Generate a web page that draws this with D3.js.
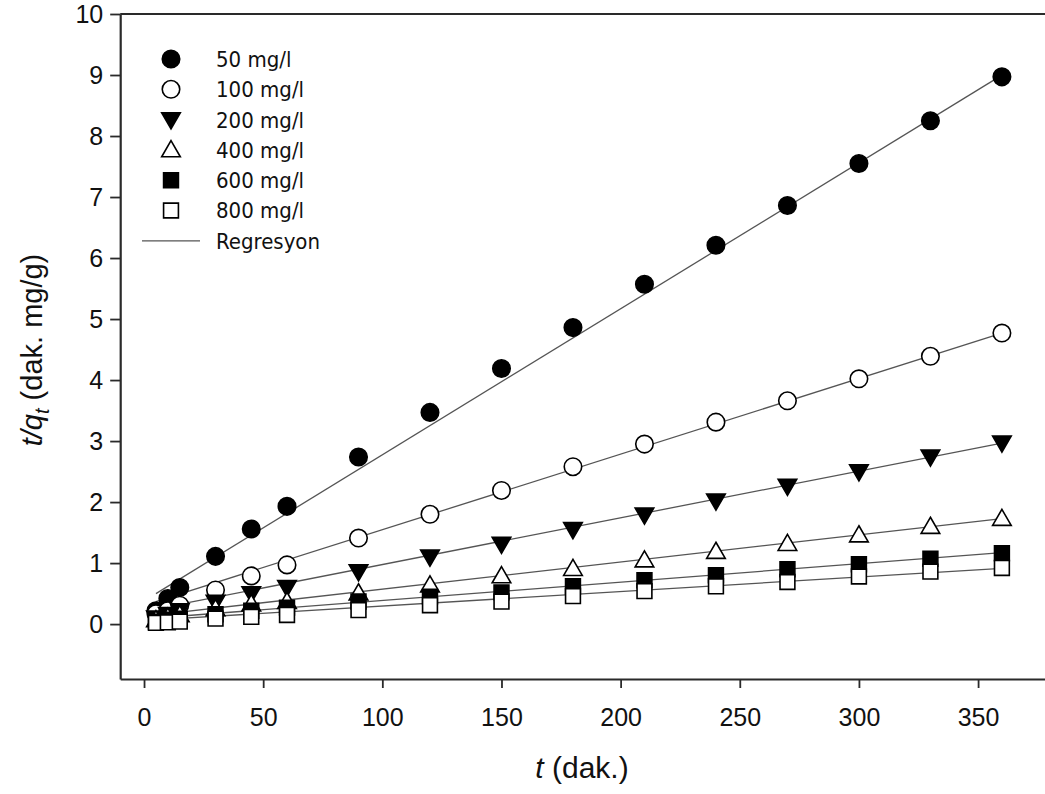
<!DOCTYPE html>
<html>
<head>
<meta charset="utf-8">
<script src="https://cdn.jsdelivr.net/npm/d3@7"></script>
<style>
  body { margin: 0; background: #fff; }
  svg { display: block; }
</style>
</head>
<body>
<div id="chart"></div>
<script>
// time points (dak.)
const times = [5, 10, 15, 30, 45, 60, 90, 120, 150, 180, 210, 240, 270, 300, 330, 360];

const seriesNames = ["50 mg/l", "100 mg/l", "200 mg/l", "400 mg/l", "600 mg/l", "800 mg/l"];
const seriesShapes = ["circle", "circle", "triangleDown", "triangleUp", "square", "square"];
const seriesFilled = [true, false, true, false, true, false];

// t/qt values
const c50  = [0.22, 0.42, 0.60, 1.11, 1.56, 1.93, 2.74, 3.47, 4.19, 4.86, 5.57, 6.21, 6.86, 7.55, 8.25, 8.97];
const c100 = [0.17, 0.22, 0.31, 0.56, 0.79, 0.97, 1.41, 1.80, 2.19, 2.58, 2.95, 3.31, 3.66, 4.02, 4.39, 4.77];
const c200 = [0.10, 0.16, 0.22, 0.36, 0.50, 0.60, 0.86, 1.10, 1.31, 1.55, 1.79, 2.02, 2.26, 2.50, 2.74, 2.97];
const c400 = [0.07, 0.11, 0.15, 0.25, 0.33, 0.37, 0.51, 0.64, 0.79, 0.91, 1.05, 1.19, 1.32, 1.46, 1.60, 1.73];
const c600 = [0.04, 0.07, 0.09, 0.16, 0.22, 0.27, 0.37, 0.45, 0.52, 0.62, 0.72, 0.80, 0.90, 0.98, 1.07, 1.16];
const c800 = [0.02, 0.03, 0.04, 0.09, 0.12, 0.15, 0.23, 0.31, 0.37, 0.46, 0.54, 0.62, 0.69, 0.78, 0.86, 0.92];
const seriesValues = [c50, c100, c200, c400, c600, c800];

// regression lines t/qt = a + b*t
const regIntercept = [0.38, 0.308, 0.21, 0.128, 0.085, 0.058];
const regSlope = [0.02394, 0.01239, 0.00766, 0.00445, 0.003014, 0.00238];
const regRange = [5, 360];

const xTicks = [0, 50, 100, 150, 200, 250, 300, 350];
const yTicks = [0, 1, 2, 3, 4, 5, 6, 7, 8, 9, 10];

const width = 1045;
const height = 794;

const svg = d3.select("#chart")
    .append("svg")
    .attr("width", width)
    .attr("height", height);

const x = d3.scaleLinear()
    .domain([-10, 380])
    .range([120.2, 120.2 + 390 * 2.383]);

const y = d3.scaleLinear()
    .domain([-0.9, 10])
    .range([679, 14]);

const axisColor = "#2a2a2a";
const tickFont = "Liberation Sans, Arial, sans-serif";

// frame: top line
svg.append("line")
    .attr("x1", x(-10)).attr("x2", x(380))
    .attr("y1", y(10)).attr("y2", y(10))
    .attr("stroke", axisColor)
    .attr("stroke-width", 2.2);

// x axis
svg.append("g")
    .attr("transform", `translate(0,${y(-0.9)})`)
    .call(d3.axisBottom(x).tickValues(xTicks).tickSize(9).tickPadding(20).tickSizeOuter(0))
    .call(g => g.select(".domain").attr("stroke", axisColor).attr("stroke-width", 2.2))
    .call(g => g.selectAll(".tick line").attr("stroke", axisColor).attr("stroke-width", 1.8))
    .call(g => g.selectAll(".tick text")
        .attr("fill", "#111")
        .attr("font-family", tickFont)
        .attr("font-size", 25));

// y axis
svg.append("g")
    .attr("transform", `translate(${x(-10)},0)`)
    .call(d3.axisLeft(y).tickValues(yTicks).tickSize(10).tickPadding(7).tickSizeOuter(0))
    .call(g => g.select(".domain").attr("stroke", axisColor).attr("stroke-width", 2.2))
    .call(g => g.selectAll(".tick line").attr("stroke", axisColor).attr("stroke-width", 1.8))
    .call(g => g.selectAll(".tick text")
        .attr("fill", "#111")
        .attr("font-family", tickFont)
        .attr("font-size", 25));

// axis titles
svg.append("text")
    .attr("x", 582)
    .attr("y", 778)
    .attr("text-anchor", "middle")
    .attr("font-family", tickFont)
    .attr("font-size", 30)
    .attr("fill", "#111")
    .call(t => t.append("tspan").attr("font-style", "italic").text("t"))
    .call(t => t.append("tspan").text(" (dak.)"));

svg.append("text")
    .attr("transform", `translate(42,350) rotate(-90)`)
    .attr("text-anchor", "middle")
    .attr("font-family", tickFont)
    .attr("font-size", 29)
    .attr("fill", "#111")
    .call(t => t.append("tspan").attr("font-style", "italic").text("t/q"))
    .call(t => t.append("tspan").attr("font-style", "italic").attr("font-size", 20).attr("dy", 7).text("t"))
    .call(t => t.append("tspan").attr("dy", -7).text(" (dak. mg/g)"));

// regression lines
const line = d3.line()
    .x(d => x(d[0]))
    .y(d => y(d[1]));

seriesNames.forEach((name, i) => {
    svg.append("path")
        .datum(regRange.map(t => [t, regIntercept[i] + regSlope[i] * t]))
        .attr("fill", "none")
        .attr("stroke", "#555")
        .attr("stroke-width", 1.3)
        .attr("d", line);
});

// markers
const symbolTypes = {
    circle: d3.symbolCircle,
    square: d3.symbolSquare,
    triangleUp: d3.symbolTriangle,
    triangleDown: d3.symbolTriangle
};
const symbolSizes = { circle: 240, square: 220, triangleUp: 150, triangleDown: 150 };

function drawMarker(g, shape, filled, cx, cy) {
    const sym = d3.symbol().type(symbolTypes[shape]).size(symbolSizes[shape]);
    let tr = `translate(${cx},${cy})`;
    if (shape === "triangleDown") tr += " rotate(180)";
    if (shape === "triangleUp" || shape === "triangleDown") tr += " translate(0,1.5)";
    g.append("path")
        .attr("d", sym())
        .attr("transform", tr)
        .attr("fill", filled ? "#000" : "#fff")
        .attr("stroke", "#000")
        .attr("stroke-width", 1.6);
}

seriesValues.forEach((vals, i) => {
    const g = svg.append("g");
    vals.forEach((v, j) => {
        drawMarker(g, seriesShapes[i], seriesFilled[i], x(times[j]), y(v));
    });
});

// legend
const legendFont = "DejaVu Sans Condensed, DejaVu Sans, Verdana, sans-serif";
const legend = svg.append("g");
const legendY0 = 59;
const legendStep = 30.3;
seriesNames.forEach((name, i) => {
    const ly = legendY0 + i * legendStep;
    drawMarker(legend, seriesShapes[i], seriesFilled[i], 171, ly);
    legend.append("text")
        .attr("x", 216)
        .attr("y", ly)
        .attr("dy", "0.36em")
        .attr("font-family", legendFont)
        .attr("font-size", 22)
        .attr("fill", "#111")
        .text(name);
});
const regY = legendY0 + 6 * legendStep;
legend.append("line")
    .attr("x1", 142).attr("x2", 200)
    .attr("y1", regY).attr("y2", regY)
    .attr("stroke", "#555")
    .attr("stroke-width", 1.3);
legend.append("text")
    .attr("x", 216)
    .attr("y", regY)
    .attr("dy", "0.36em")
    .attr("font-family", legendFont)
    .attr("font-size", 22)
    .attr("fill", "#111")
    .text("Regresyon");
</script>
</body>
</html>
